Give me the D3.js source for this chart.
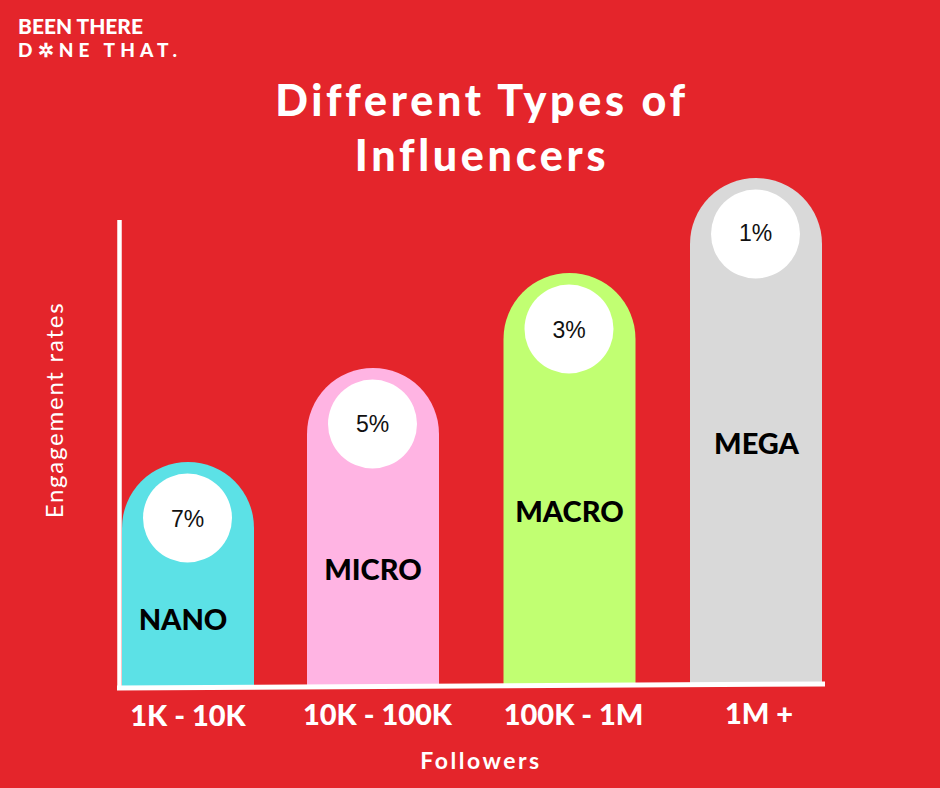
<!DOCTYPE html>
<html>
<head>
<meta charset="utf-8">
<script src="https://d3js.org/d3.v7.min.js"></script>
<style>
    html, body { margin: 0; padding: 0; background: #e4252b; }
    svg { display: block; }
    text { fill: #fff; font-family: Lato, sans-serif; font-weight: 700; text-anchor: middle; }
</style>
</head>
<body>
<svg id="chart" width="940" height="788"></svg>
<script>
const categories = ["NANO", "MICRO", "MACRO", "MEGA"];
const followers = ["1K - 10K", "10K - 100K", "100K - 1M", "1M +"];
const engagement = ["7%", "5%", "3%", "1%"];
// bar heights have no axis values in the picture, so these are relative units read off it
const barLevels = [224, 318, 413, 508];
const barColors = ["#5ce1e6", "#ffb4e3", "#c1ff72", "#d9d9d9"];

const svg = d3.select("#chart");
svg.append("rect").attr("width", 940).attr("height", 788).attr("fill", "#e4252b");

const x = d3.scaleOrdinal().domain(categories).range([188, 373, 569.5, 756]);
const y = d3.scaleLinear().domain([0, 508]).range([686, 178]);
const barW = 132, r = barW / 2;

// layout nudges, the labels in the picture are placed by hand
const catDx = [-5, 0, 0, 0.5];
const catDy = [168, 212, 249, 276];
const tickDx = [0, 4.5, 4, 3];
const rateDy = [65, 64, 65, 63];

// logo
svg.append("text").attr("x", 18).attr("y", 34).style("text-anchor", "start").style("font-weight", 900)
    .style("font-size", "21px").attr("textLength", 125).attr("lengthAdjust", "spacingAndGlyphs")
    .text("BEEN THERE");
svg.append("text").attr("x", 18).attr("y", 57).style("text-anchor", "start").style("font-weight", 900)
    .style("font-size", "19px").attr("textLength", 159)
    .text("D✲NE THAT.");

// title
svg.selectAll(".title").data(["Different Types of", "Influencers"]).join("text")
    .attr("class", "title")
    .attr("x", 482)
    .attr("y", (d, i) => 116 + i * 55)
    .style("font-size", "43px").style("font-weight", 900).style("letter-spacing", "3.7px")
    .text(d => d);

// bars with a round top
svg.selectAll(".bar").data(categories).join("path")
    .attr("class", "bar")
    .attr("fill", (d, i) => barColors[i])
    .attr("d", (d, i) => {
        const l = x(d) - r, t = y(barLevels[i]), b = y(0);
        return `M${l},${b}V${t + r}A${r},${r} 0 0 1 ${l + barW},${t + r}V${b}Z`;
    });

// white circles with the rate
svg.selectAll(".dot").data(categories).join("circle")
    .attr("class", "dot").attr("fill", "#fff").attr("r", 44.5)
    .attr("cx", d => x(d) - 0.5)
    .attr("cy", (d, i) => y(barLevels[i]) + 56);
svg.selectAll(".rate").data(categories).join("text")
    .attr("class", "rate")
    .attr("x", d => x(d) - 0.5)
    .attr("y", (d, i) => y(barLevels[i]) + rateDy[i])
    .style("fill", "#111").style("font-family", "'Liberation Sans', sans-serif").style("font-weight", 400).style("font-size", "23px")
    .text((d, i) => engagement[i]);

// category names
svg.selectAll(".cat").data(categories).join("text")
    .attr("class", "cat")
    .attr("x", (d, i) => x(d) + catDx[i])
    .attr("y", (d, i) => y(barLevels[i]) + catDy[i])
    .style("fill", "#000").style("font-size", "29px").style("font-weight", 900)
    .text(d => d);

// axes, the bottom one slopes a little
svg.append("line").attr("x1", 119.5).attr("x2", 119.5).attr("y1", 220).attr("y2", 689)
    .attr("stroke", "#fff").attr("stroke-width", 4.5);
svg.append("line").attr("x1", 117).attr("x2", 825).attr("y1", 688).attr("y2", 684)
    .attr("stroke", "#fff").attr("stroke-width", 5);

// tick labels
svg.selectAll(".tick").data(categories).join("text")
    .attr("class", "tick")
    .attr("x", (d, i) => x(d) + tickDx[i])
    .attr("y", (d, i) => 726 - i * 0.7)
    .style("font-size", "29px").style("font-weight", 900)
    .text((d, i) => followers[i]);

svg.append("text").attr("x", 481).attr("y", 769)
    .style("font-size", "23px").style("letter-spacing", "2.5px").text("Followers");
svg.append("text").attr("transform", "translate(63,410) rotate(-90)")
    .style("font-size", "24px").style("font-weight", 400).style("letter-spacing", "1.75px").text("Engagement rates");
</script>
</body>
</html>
